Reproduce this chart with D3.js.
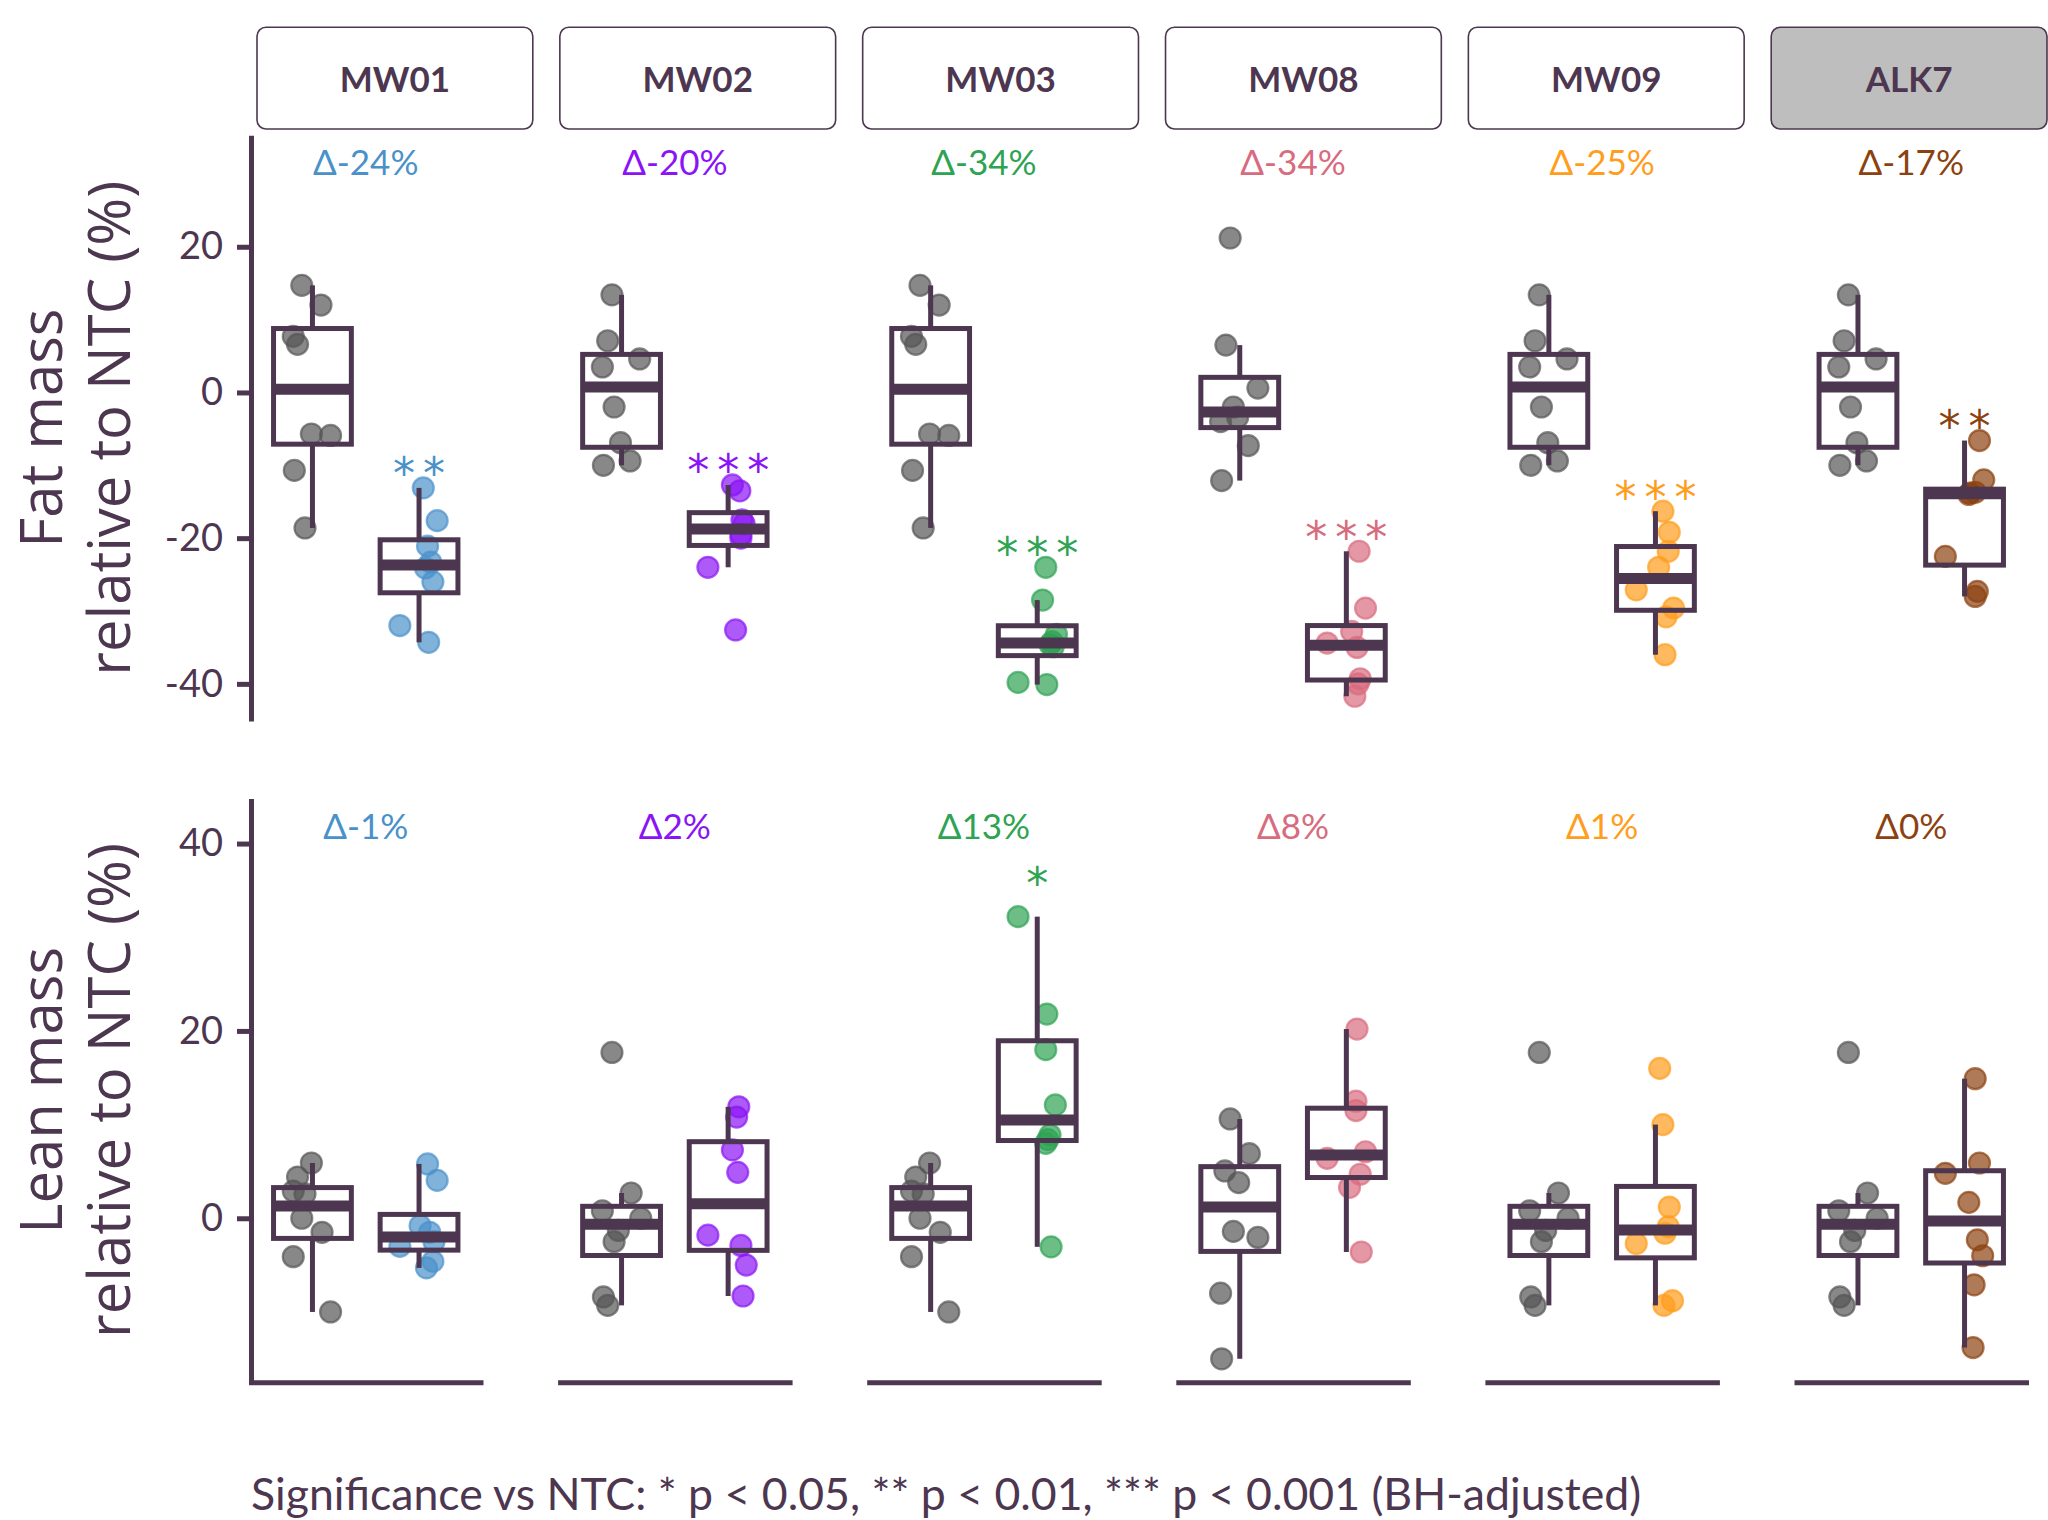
<!DOCTYPE html>
<html><head><meta charset="utf-8">
<script src="https://cdn.jsdelivr.net/npm/d3@7"></script>
<style>body{margin:0;background:#fff;} svg{display:block;}</style>
</head><body>
<svg id="chart" width="2048" height="1520"></svg>
<script>
// ---------------- DATA ----------------
const guides = ["MW01", "MW02", "MW03", "MW08", "MW09", "ALK7"];
const groups = ["NTC", "KO"];

// NTC control sets (shared between guides)
const ntcFatA = [14.7, 12.0, 7.7, 6.6, -5.7, -5.9, -10.7, -18.6];
const ntcFatAJit = [-0.10, 0.08, -0.18, -0.14, -0.01, 0.17, -0.17, -0.07];
const ntcFatB = [13.4, 7.1, 4.6, 3.5, -2.0, -6.9, -10.0, -9.4];
const ntcFatBJit = [-0.09, -0.13, 0.17, -0.18, -0.07, -0.01, -0.17, 0.08];
const ntcFatC = [21.2, 6.5, 0.6, -2.0, -3.4, -4.0, -7.3, -12.1];
const ntcFatCJit = [-0.09, -0.13, 0.17, -0.06, -0.02, -0.18, 0.08, -0.17];

const ntcLeanA = [5.9, 4.4, 2.9, 2.6, 0.0, -1.5, -4.1, -10.0];
const ntcLeanAJit = [-0.01, -0.14, -0.18, -0.07, -0.10, 0.09, -0.18, 0.17];
const ntcLeanB = [17.7, 2.7, 0.8, 0.0, -1.3, -2.5, -8.4, -9.3];
const ntcLeanBJit = [-0.09, 0.09, -0.18, 0.18, -0.03, -0.07, -0.17, -0.13];
const ntcLeanC = [10.6, 6.9, 5.05, 3.8, -1.4, -2.05, -8.0, -15.0];
const ntcLeanCJit = [-0.09, 0.09, -0.14, -0.01, -0.06, 0.17, -0.18, -0.17];

// which NTC set belongs to each guide facet
const fatNTC = [ntcFatA, ntcFatB, ntcFatA, ntcFatC, ntcFatB, ntcFatB];
const fatNTCJit = [ntcFatAJit, ntcFatBJit, ntcFatAJit, ntcFatCJit, ntcFatBJit, ntcFatBJit];
const leanNTC = [ntcLeanA, ntcLeanB, ntcLeanA, ntcLeanC, ntcLeanB, ntcLeanB];
const leanNTCJit = [ntcLeanAJit, ntcLeanBJit, ntcLeanAJit, ntcLeanCJit, ntcLeanBJit, ntcLeanBJit];

// knockout groups (fat mass, % relative to NTC)
const fatKO = [
  [-13.1, -17.6, -21.1, -23.3, -24.1, -26.0, -32.0, -34.3],
  [-12.7, -13.5, -17.5, -18.0, -19.5, -20.0, -24.0, -32.6],
  [-24.0, -28.5, -33.2, -34.2, -34.6, -34.9, -39.8, -40.1],
  [-21.8, -29.6, -32.8, -34.4, -35.0, -39.3, -40.0, -41.7],
  [-16.3, -19.2, -21.8, -24.0, -27.1, -29.6, -30.8, -36.0],
  [-6.6, -12.0, -13.7, -13.8, -14.0, -22.5, -27.3, -28.0]
];
const fatKOJit = [
  [0.04, 0.17, 0.08, 0.11, 0.06, 0.13, -0.18, 0.09],
  [0.04, 0.11, 0.13, 0.15, 0.12, 0.12, -0.19, 0.07],
  [0.08, 0.05, 0.18, 0.14, 0.12, 0.15, -0.18, 0.09],
  [0.12, 0.18, 0.05, -0.18, 0.10, 0.13, 0.11, 0.08],
  [0.07, 0.13, 0.12, 0.03, -0.18, 0.17, 0.10, 0.09],
  [0.14, 0.18, 0.10, 0.05, 0.04, -0.18, 0.12, 0.10]
];
// knockout groups (lean mass, % relative to NTC)
const leanKO = [
  [5.8, 4.05, -0.8, -1.5, -2.5, -3.0, -4.6, -5.3],
  [11.9, 10.8, 7.3, 4.9, -1.8, -2.9, -5.0, -8.3],
  [32.2, 21.8, 18.0, 12.1, 8.9, 8.4, 8.0, -3.05],
  [20.2, 12.5, 11.5, 7.1, 6.4, 4.7, 3.3, -3.6],
  [16.0, 10.0, 1.2, -0.9, -1.6, -2.7, -8.8, -9.3],
  [14.9, 5.9, 4.8, 1.7, -2.3, -4.0, -7.1, -13.8]
];
const leanKOJit = [
  [0.08, 0.17, 0.01, 0.10, 0.14, -0.18, 0.13, 0.07],
  [0.10, 0.08, 0.04, 0.09, -0.19, 0.12, 0.17, 0.14],
  [-0.18, 0.09, 0.08, 0.17, 0.12, 0.10, 0.08, 0.13],
  [0.10, 0.09, 0.09, 0.18, -0.18, 0.13, 0.03, 0.14],
  [0.04, 0.07, 0.13, 0.12, 0.09, -0.18, 0.16, 0.08],
  [0.10, 0.14, -0.18, 0.04, 0.12, 0.17, 0.09, 0.08]
];

const fatDelta = [-24, -20, -34, -34, -25, -17];
const leanDelta = [-1, 2, 13, 8, 1, 0];
const fatSig = ["**", "***", "***", "***", "***", "**"];
const leanSig = ["", "", "*", "", "", ""];

const fatTicks = [-40, -20, 0, 20];
const leanTicks = [0, 20, 40];
const footnote = "Significance vs NTC: * p < 0.05, ** p < 0.01, *** p < 0.001 (BH-adjusted)";

// ---------------- STYLE ----------------
const W = 2048, H = 1520;
const ink = "#4D3650";
const palette = ["#4A91CA", "#8A14F5", "#2EA352", "#D86B7D", "#FF9D1C", "#8C4210"];
const ntcColor = "#555555";
const labelFont = "Lato, 'Open Sans', sans-serif";
const titleFont = "'Open Sans', 'Noto Sans', sans-serif";
const starFont = "'DejaVu Sans', sans-serif";

const svg = d3.select("#chart");
svg.append("rect").attr("width", W).attr("height", H).attr("fill", "#fff");

const facetX = d3.scaleBand().domain(guides).range([248.5, 2028.5]).paddingInner(0.2414);
const stripX = d3.scaleBand().domain(guides).range([257, 2047]).paddingInner(0.0893);
const xIn = d3.scaleLinear().domain([0.4, 2.6]).range([0, facetX.bandwidth()]);
const groupPos = {NTC: 1, KO: 2};
const boxW = 0.73;

const panels = [
  {title: ["Fat mass", "relative to NTC (%)"],
   y: d3.scaleLinear().domain([-45.1, 35.3]).range([721, 135.3]),
   ticks: fatTicks, ntc: fatNTC, ntcJit: fatNTCJit, ko: fatKO, koJit: fatKOJit,
   delta: fatDelta, sig: fatSig, sigOffset: 24, xAxis: false},
  {title: ["Lean mass", "relative to NTC (%)"],
   y: d3.scaleLinear().domain([-17.5, 44.8]).range([1382.2, 798.6]),
   ticks: leanTicks, ntc: leanNTC, ntcJit: leanNTCJit, ko: leanKO, koJit: leanKOJit,
   delta: leanDelta, sig: leanSig, sigOffset: 43, xAxis: true}
];

function boxStats(vals) {
  const s = vals.slice().sort(d3.ascending);
  const q1 = d3.quantile(s, 0.25), med = d3.quantile(s, 0.5), q3 = d3.quantile(s, 0.75);
  const iqr = q3 - q1;
  const lo = d3.min(s.filter(v => v >= q1 - 1.5 * iqr));
  const hi = d3.max(s.filter(v => v <= q3 + 1.5 * iqr));
  return {q1, med, q3, lo, hi};
}

// strips
guides.forEach((g, i) => {
  const sg = svg.append("g").attr("transform", `translate(${stripX(g)},27.3)`);
  sg.append("rect").attr("width", stripX.bandwidth()).attr("height", 101.7)
    .attr("rx", 9).attr("ry", 9)
    .attr("fill", g === "ALK7" ? "#BEBEBE" : "#fff")
    .attr("stroke", ink).attr("stroke-width", 1.6);
  sg.append("text").attr("x", stripX.bandwidth() / 2).attr("y", 64.4)
    .attr("text-anchor", "middle").attr("font-family", labelFont)
    .attr("font-weight", 700).attr("font-size", 35).attr("fill", ink).text(g);
});

panels.forEach(p => {
  const [yTop, yBot] = [p.y.range()[1], p.y.range()[0]];
  const yMid = (yTop + yBot) / 2;

  guides.forEach((g, gi) => {
    const fg = svg.append("g").attr("transform", `translate(${facetX(g)},0)`);
    const sets = [
      {grp: "NTC", vals: p.ntc[gi], jit: p.ntcJit[gi], color: ntcColor},
      {grp: "KO", vals: p.ko[gi], jit: p.koJit[gi], color: palette[gi]}
    ];
    // points
    sets.forEach(s => {
      fg.append("g").selectAll("circle").data(s.vals.map((v, k) => ({v, j: s.jit[k]})))
        .join("circle")
        .attr("cx", d => xIn(groupPos[s.grp] + d.j))
        .attr("cy", d => p.y(d.v))
        .attr("r", 10.5)
        .attr("fill", s.color).attr("fill-opacity", 0.7)
        .attr("stroke", s.color).attr("stroke-opacity", 0.7).attr("stroke-width", 2.2);
    });
    // boxes
    sets.forEach(s => {
      const st = boxStats(s.vals);
      const cx = xIn(groupPos[s.grp]);
      const x0 = xIn(groupPos[s.grp] - boxW / 2), x1 = xIn(groupPos[s.grp] + boxW / 2);
      const bg = fg.append("g").attr("stroke", ink).attr("fill", "none");
      bg.append("line").attr("x1", cx).attr("x2", cx).attr("y1", p.y(st.q3)).attr("y2", p.y(st.hi)).attr("stroke-width", 5);
      bg.append("line").attr("x1", cx).attr("x2", cx).attr("y1", p.y(st.q1)).attr("y2", p.y(st.lo)).attr("stroke-width", 5);
      bg.append("rect").attr("x", x0).attr("y", p.y(st.q3)).attr("width", x1 - x0)
        .attr("height", p.y(st.q1) - p.y(st.q3)).attr("stroke-width", 5);
      bg.append("line").attr("x1", x0).attr("x2", x1).attr("y1", p.y(st.med)).attr("y2", p.y(st.med)).attr("stroke-width", 11);
    });
    // delta label
    const dv = p.delta[gi];
    fg.append("text").attr("x", facetX.bandwidth() / 2).attr("y", yTop + 40)
      .attr("text-anchor", "middle").attr("font-family", labelFont).attr("font-size", 35)
      .attr("fill", palette[gi]).text("\u0394" + dv + "%");
    // significance stars
    const sig = p.sig[gi];
    if (sig) {
      const top = p.y(d3.max(p.ko[gi])) - p.sigOffset;
      const cx = xIn(groupPos.KO);
      sig.split("").forEach((c, k) => {
        fg.append("text").attr("x", cx + (k - (sig.length - 1) / 2) * 30)
          .attr("y", top + 0.58 * 44).attr("text-anchor", "middle")
          .attr("font-family", starFont).attr("font-size", 44).attr("fill", palette[gi]).text(c);
      });
    }
    // x axis line (bottom panel only)
    if (p.xAxis) {
      const xa = fg.append("g").attr("transform", `translate(0,${yBot})`)
        .call(d3.axisBottom(xIn).tickValues([]).tickSizeOuter(0));
      xa.select(".domain").attr("stroke", ink).attr("stroke-width", 5);
    }
  });

  // y axis on first facet
  const ax = svg.append("g").attr("transform", `translate(${facetX(guides[0]) + 2.5},0)`)
    .call(d3.axisLeft(p.y).tickValues(p.ticks).tickSize(14).tickSizeOuter(0).tickPadding(14));
  ax.select(".domain").attr("stroke", ink).attr("stroke-width", 5);
  ax.selectAll(".tick line").attr("stroke", ink).attr("stroke-width", 5);
  ax.selectAll(".tick text").attr("fill", ink).attr("font-family", labelFont).attr("font-size", 38)
    .text(d => d3.format("d")(d).replace("\u2212", "-"));

  // y title (two lines)
  p.title.forEach((t, li) => {
    svg.append("text").attr("transform", `translate(${li === 0 ? 62 : 130},${yMid}) rotate(-90)`)
      .attr("text-anchor", "middle").attr("font-family", titleFont).attr("font-size", 58)
      .attr("fill", ink).text(t);
  });
});

svg.append("text").attr("x", 251).attr("y", 1510).attr("font-family", labelFont)
  .attr("font-size", 44.6).attr("fill", ink).text(footnote);
</script>
</body></html>
